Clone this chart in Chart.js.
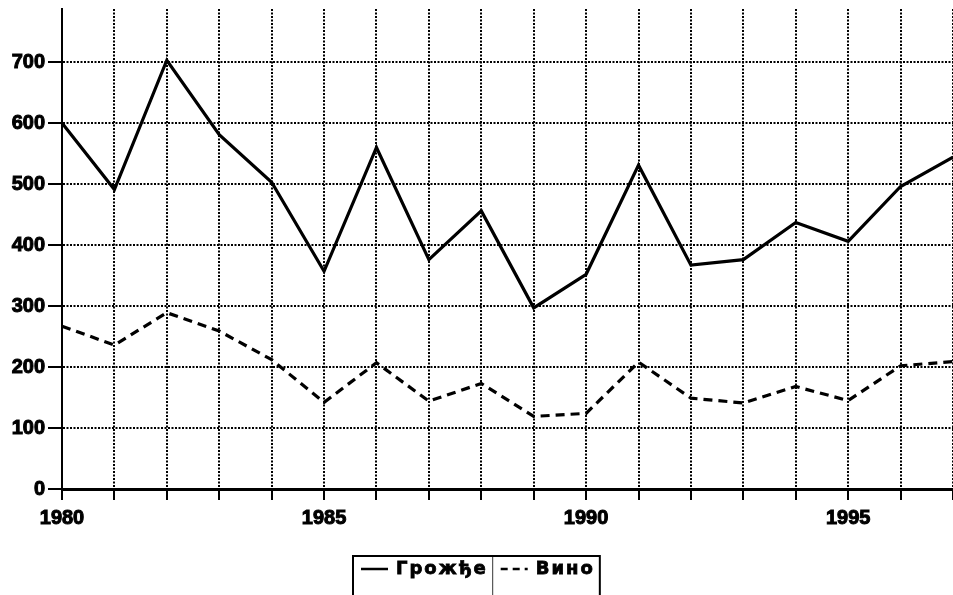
<!DOCTYPE html>
<html>
<head>
<meta charset="utf-8">
<script src="https://cdn.jsdelivr.net/npm/chart.js@4"></script>
<style>
  html, body { margin: 0; padding: 0; background: #fff; }
  #wrap { width: 953px; height: 595px; position: relative; }
</style>
</head>
<body>
<div id="wrap"><canvas id="chart"></canvas></div>
<script>
// values
const years = ['1980','1981','1982','1983','1984','1985','1986','1987','1988',
               '1989','1990','1991','1992','1993','1994','1995','1996','1997'];
const grozdje = [600, 491, 703, 581, 503, 357, 560, 376, 456, 297, 352, 531, 367, 376, 437, 406, 496, 544];
const vino    = [267, 236, 289, 259, 212, 142, 207, 144, 173, 119, 124, 208, 149, 141, 168, 145, 202, 209];
const seriesNames = ['Грожђе', 'Вино'];
const yTicks = [0, 100, 200, 300, 400, 500, 600, 700];
const yMax = 787;

// legend in a framed box under the plot
const boxLegend = {
  id: 'boxLegend',
  afterDraw(chart) {
    const ctx = chart.ctx;
    ctx.save();
    ctx.font = 'bold 18px "DejaVu Sans"';
    ctx.letterSpacing = '2px';
    const pad = 8, sample = 27, gap = 8, padR = 5;
    const cells = chart.data.datasets.map(ds => {
      const w = ctx.measureText(ds.label).width;
      return { ds, w, cw: pad + sample + gap + w + padR };
    });
    const total = cells.reduce((s, c) => s + c.cw, 0);
    let x = Math.round((chart.width - total) / 2);
    const top = 556, bottom = 600, cy = 569;
    ctx.strokeStyle = '#000';
    ctx.lineWidth = 2;
    ctx.strokeRect(x, top, total, bottom - top);
    cells.forEach((c, i) => {
      if (i > 0) {
        ctx.beginPath(); ctx.moveTo(x, top); ctx.lineTo(x, bottom); ctx.stroke();
      }
      ctx.save();
      ctx.lineWidth = 2.5;
      ctx.setLineDash(c.ds.borderDash && c.ds.borderDash.length ? [7, 5] : []);
      ctx.beginPath();
      ctx.moveTo(x + pad, cy); ctx.lineTo(x + pad + sample, cy);
      ctx.stroke();
      ctx.restore();
      ctx.fillStyle = '#000';
      ctx.textBaseline = 'middle';
      ctx.textAlign = 'left';
      ctx.lineWidth = 0.8;
      ctx.fillText(c.ds.label, x + pad + sample + gap, cy);
      ctx.strokeText(c.ds.label, x + pad + sample + gap, cy);
      x += c.cw;
    });
    ctx.restore();
  }
};

const tickFont = { family: '"Liberation Sans", Arial, sans-serif', size: 20, weight: 'bold' };

new Chart(document.getElementById('chart'), {
  type: 'line',
  data: {
    labels: years,
    datasets: [
      { label: seriesNames[0], data: grozdje, borderColor: '#000', borderWidth: 3.2,
        pointRadius: 0, tension: 0, borderJoinStyle: 'miter' },
      { label: seriesNames[1], data: vino, borderColor: '#000', borderWidth: 3.2,
        borderDash: [9, 6], pointRadius: 0, tension: 0 }
    ]
  },
  options: {
    responsive: true,
    maintainAspectRatio: false,
    animation: false,
    devicePixelRatio: 1,
    layout: { padding: { top: 9, left: 0, right: 0, bottom: 0 } },
    plugins: { legend: { display: false }, tooltip: { enabled: false } },
    scales: {
      x: {
        type: 'category',
        offset: false,
        grid: { color: '#000', lineWidth: 2, tickLength: 11, tickWidth: 2, tickColor: '#000' },
        border: { display: true, color: '#000', width: 3, dash: [2, 1.5] },
        ticks: {
          color: '#000', font: tickFont, autoSkip: false, maxRotation: 0, padding: 6,
          textStrokeColor: '#000', textStrokeWidth: 1,
          callback: (v, i) => (Number(years[i]) % 5 === 0 ? years[i] : '')
        },
        afterFit: s => { s.height = 106; s.paddingLeft = 0; s.paddingRight = 0; }
      },
      y: {
        min: 0,
        max: yMax,
        grid: { color: '#000', lineWidth: 2, tickLength: 14, tickWidth: 2, tickColor: '#000' },
        border: { display: true, color: '#000', width: 2, dash: [2, 1.5] },
        ticks: { color: '#000', font: tickFont, padding: 3, textStrokeColor: '#000', textStrokeWidth: 1 },
        afterBuildTicks: axis => { axis.ticks = yTicks.map(v => ({ value: v })); },
        afterFit: s => { s.width = 62; s.paddingTop = 0; s.paddingBottom = 0; }
      }
    }
  },
  plugins: [boxLegend]
});
</script>
</body>
</html>
